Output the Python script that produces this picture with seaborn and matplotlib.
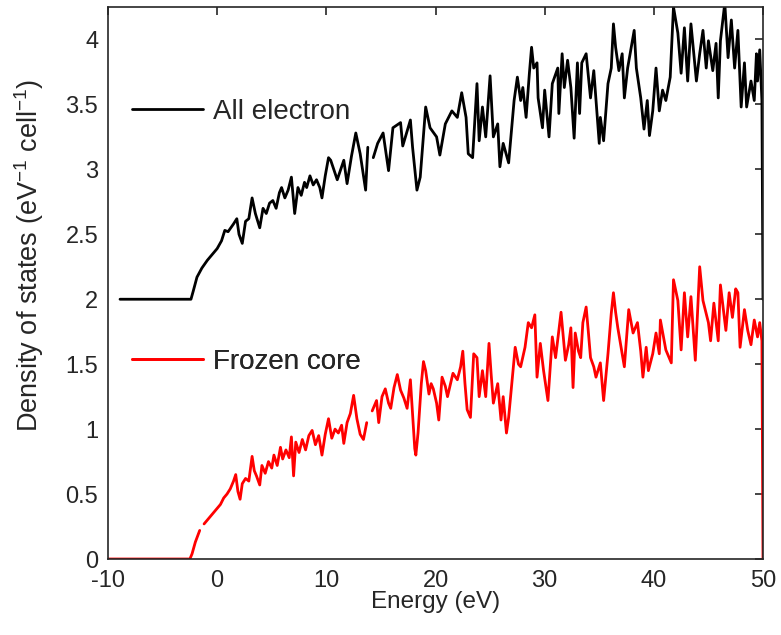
import numpy as np
import pandas as pd
import matplotlib
matplotlib.use("Agg")
import matplotlib.pyplot as plt
import seaborn as sns
from matplotlib.lines import Line2D
from matplotlib.ticker import FuncFormatter, MultipleLocator

# Frozen core DOS (eV^-1 cell^-1)
frozen_energy = [
    -10.0, -2.5, -2.3, -2.0, -1.6, -1.2, -0.8, -0.4, 0.0, 0.3, 0.6, 0.9, 1.2, 1.5,
    1.7, 1.9, 2.1, 2.3, 2.6, 2.9, 3.2, 3.4, 3.6, 3.9, 4.1, 4.4, 4.7, 5.0, 5.2, 5.5,
    5.8, 6.0, 6.3, 6.6, 6.8, 7.0, 7.2, 7.5, 7.8, 8.1, 8.4, 8.7, 9.0, 9.3, 9.6, 9.9,
    10.2, 10.5, 10.8, 11.1, 11.4, 11.6, 11.9, 12.2, 12.5, 12.8, 13.1, 13.4, 13.7,
    14.2, 14.4, 14.6, 14.8, 15.1, 15.4, 15.7, 15.9, 16.2, 16.5, 16.8, 17.1, 17.4,
    17.7, 17.9, 18.1, 18.2, 18.4, 18.7, 18.9, 19.1, 19.4, 19.6, 19.8, 20.1, 20.3,
    20.6, 20.9, 21.1, 21.4, 21.6, 22.0, 22.3, 22.5, 22.7, 22.9, 23.2, 23.5, 23.8,
    24.0, 24.3, 24.6, 24.9, 25.1, 25.3, 25.7, 26.0, 26.2, 26.5, 26.7, 27.1, 27.3,
    27.6, 27.8, 28.2, 28.5, 28.8, 29.1, 29.3, 29.6, 29.9, 30.3, 30.7, 31.0, 31.5,
    31.9, 32.2, 32.4, 32.6, 32.8, 33.1, 33.3, 33.5, 33.8, 34.0, 34.2, 34.5, 34.7,
    35.1, 35.4, 35.8, 36.1, 36.3, 36.5, 36.7, 37.0, 37.3, 37.7, 38.1, 38.5, 38.8,
    39.0, 39.3, 39.5, 39.9, 40.2, 40.5, 40.6, 40.9, 41.1, 41.4, 41.6, 41.8, 42.2,
    42.5, 42.8, 43.1, 43.4, 43.8, 44.2, 44.5, 45.0, 45.2, 45.5, 45.9, 46.1, 46.6,
    46.9, 47.2, 47.5, 47.7, 47.9, 48.3, 48.6, 48.9, 49.2, 49.5, 49.7, 49.9, 50.0,
]
frozen_dos = [
    0.0, 0.0, 0.04, 0.13, 0.22, 0.27, 0.31, 0.35, 0.39, 0.42, 0.47, 0.50, 0.54, 0.60,
    0.65, 0.52, 0.46, 0.58, 0.62, 0.60, 0.79, 0.68, 0.64, 0.57, 0.72, 0.66, 0.75, 0.70, 0.80, 0.72,
    0.86, 0.77, 0.84, 0.78, 0.94, 0.64, 0.90, 0.82, 0.92, 0.84, 0.95, 0.99, 0.88, 0.95, 0.80, 0.96,
    1.08, 0.93, 1.00, 0.97, 1.03, 0.89, 1.05, 1.12, 1.26, 1.08, 0.96, 0.92, 1.05,
    1.14, 1.18, 1.22, 1.05, 1.25, 1.31, 1.20, 1.16, 1.32, 1.42, 1.30, 1.24, 1.16,
    1.38, 1.12, 0.85, 0.80, 0.97, 1.35, 1.52, 1.45, 1.27, 1.35, 1.31, 1.20, 1.07,
    1.40, 1.33, 1.25, 1.36, 1.43, 1.38, 1.48, 1.60, 1.35, 1.15, 1.09, 1.58, 1.55,
    1.25, 1.45, 1.25, 1.66, 1.42, 1.20, 1.35, 1.07, 1.25, 0.97, 1.09, 1.45, 1.63,
    1.50, 1.48, 1.63, 1.82, 1.78, 1.88, 1.40, 1.66, 1.45, 1.22, 1.71, 1.55, 1.90,
    1.53, 1.65, 1.78, 1.32, 1.74, 1.60, 1.55, 1.82, 1.94, 1.75, 1.55, 1.48, 1.40,
    1.51, 1.22, 1.58, 1.89, 2.05, 1.90, 1.78, 1.63, 1.48, 1.92, 1.74, 1.82, 1.60,
    1.40, 1.63, 1.45, 1.58, 1.74, 1.58, 1.84, 1.70, 1.61, 1.55, 1.51, 2.15, 1.99,
    1.61, 2.05, 1.71, 2.02, 1.53, 2.25, 1.99, 1.82, 1.68, 1.97, 1.68, 2.11, 1.76,
    2.05, 1.86, 2.08, 2.05, 1.63, 1.92, 1.76, 1.65, 1.84, 1.71, 1.82, 1.68, 0.0,
]
frozen_gaps = [-1.4, 13.9]

# All electron DOS, same units
all_energy = [
    -8.9, -2.4, -2.2, -1.85, -1.4, -0.9, -0.4, 0.0, 0.4, 0.7, 1.0, 1.5, 1.8, 2.0,
    2.3, 2.6, 2.9, 3.2, 3.5, 3.9, 4.2, 4.5, 4.8, 5.1, 5.4, 5.7, 5.9, 6.2, 6.5, 6.8,
    7.1, 7.4, 7.7, 8.0, 8.2, 8.5, 8.8, 9.1, 9.4, 9.6, 9.9, 10.2, 10.4, 11.0, 11.6,
    11.9, 12.3, 12.7, 13.1, 13.6, 13.8,
    14.3, 14.7, 15.2, 15.7, 16.1, 16.8, 17.0, 17.7, 17.9, 18.3, 18.6, 19.1, 19.5,
    20.1, 20.4, 20.9, 21.5, 22.0, 22.4, 22.8, 23.0, 23.4, 23.8, 24.0, 24.3, 24.6,
    25.0, 25.3, 25.7, 25.9, 26.2, 26.7, 27.2, 27.5, 27.8, 28.0, 28.3, 28.6, 28.8,
    29.0, 29.3, 29.4, 29.8, 30.0, 30.4, 30.7, 31.2, 31.3, 31.6, 31.8, 32.1, 32.4,
    32.7, 33.0, 33.2, 33.4, 33.8, 34.2, 34.5, 35.0, 35.1, 35.4, 35.8, 36.1, 36.3,
    36.5, 36.8, 37.1, 37.3, 37.6, 38.2, 38.4, 38.8, 39.1, 39.4, 39.6, 39.9, 40.2,
    40.5, 40.8, 41.1, 41.5, 41.8, 42.2, 42.5, 42.8, 43.1, 43.4, 43.9, 44.2, 44.5,
    44.8, 45.0, 45.4, 45.7, 45.9, 46.1, 46.5, 46.8, 47.1, 47.4, 47.7, 48.0, 48.3,
    48.5, 48.9, 49.2, 49.4, 49.5, 49.7, 49.9, 50.0,
]
all_dos = [
    0.0, 0.0, 0.06, 0.17, 0.24, 0.30, 0.35, 0.39, 0.45, 0.53, 0.52, 0.58, 0.62, 0.50,
    0.43, 0.60, 0.62, 0.78, 0.66, 0.55, 0.70, 0.66, 0.74, 0.76, 0.70, 0.82, 0.86, 0.78, 0.84, 0.94,
    0.66, 0.86, 0.80, 0.90, 0.86, 0.95, 0.88, 0.92, 0.86, 0.78, 0.95, 1.09, 1.07, 0.92, 1.07,
    0.89, 1.10, 1.28, 1.12, 0.84, 1.17,
    1.09, 1.20, 1.28, 0.99, 1.32, 1.36, 1.18, 1.38, 1.17, 0.84, 0.94, 1.48, 1.32,
    1.25, 1.11, 1.35, 1.45, 1.40, 1.59, 1.40, 1.12, 1.09, 1.66, 1.22, 1.48, 1.25,
    1.72, 1.25, 1.35, 1.02, 1.20, 1.05, 1.53, 1.71, 1.53, 1.63, 1.40, 1.74, 1.94,
    1.78, 1.82, 1.55, 1.32, 1.61, 1.25, 1.66, 1.78, 1.43, 1.89, 1.63, 1.84, 1.63,
    1.24, 1.82, 1.43, 1.82, 1.89, 1.55, 1.76, 1.20, 1.40, 1.22, 1.66, 1.78, 2.12,
    1.94, 1.76, 1.89, 1.55, 1.78, 2.07, 1.78, 1.55, 1.31, 1.53, 1.26, 1.45, 1.78,
    1.45, 1.61, 1.53, 1.71, 2.25, 2.05, 1.74, 2.09, 1.68, 2.12, 1.68, 1.89, 2.07,
    1.78, 1.99, 1.76, 1.97, 1.55, 1.99, 2.28, 1.86, 2.15, 1.78, 2.07, 1.48, 1.82,
    1.48, 1.68, 1.53, 1.89, 1.68, 1.92, 1.53, 0.0,
]
all_gaps = [14.0]

# all electron curve is shifted up for display
all_offset = 2.0

sns.set_theme(style="white")
plt.rcParams['font.family'] = ['Liberation Sans', 'DejaVu Sans']
plt.rcParams['mathtext.fontset'] = 'custom'
plt.rcParams['mathtext.rm'] = 'Liberation Sans'
plt.rcParams['mathtext.default'] = 'regular'


def build_frame(energy, dos, gaps, name, offset=0.0):
    energy = np.asarray(energy)
    return pd.DataFrame({
        'energy': energy,
        'dos': np.asarray(dos) + offset,
        'curve': name,
        'segment': [f"{name}_{i}" for i in np.searchsorted(gaps, energy)],
    })


df = pd.concat([
    build_frame(frozen_energy, frozen_dos, frozen_gaps, 'Frozen core'),
    build_frame(all_energy, all_dos, all_gaps, 'All electron', all_offset),
], ignore_index=True)

colors = {'All electron': 'black', 'Frozen core': 'red'}
dark = '#262626'

fig = plt.figure(figsize=(7.81, 6.35), dpi=100)
ax = fig.add_axes([108 / 781, 76 / 635, 655 / 781, 552 / 635])

sns.lineplot(data=df, x='energy', y='dos', hue='curve', units='segment',
             estimator=None, sort=False, palette=colors, linewidth=2.0,
             legend=False, ax=ax)

ax.set_xlim(-10, 50)
ax.set_ylim(0, 4.25)
ax.xaxis.set_major_locator(MultipleLocator(10))
ax.yaxis.set_major_locator(MultipleLocator(0.5))
ax.yaxis.set_major_formatter(FuncFormatter(lambda v, p: f"{v:g}"))
ax.xaxis.set_major_formatter(FuncFormatter(lambda v, p: f"{v:g}"))

for side in ax.spines.values():
    side.set_visible(True)
    side.set_color(dark)
    side.set_linewidth(1.2)
ax.tick_params(direction='in', length=5.5, width=1.2, top=True, right=True,
               labelsize=17, color=dark, labelcolor=dark)
ax.tick_params(axis='x', pad=8)
ax.tick_params(axis='y', pad=7)

ax.set_xlabel('Energy (eV)', fontsize=17.5, color=dark)
ax.set_ylabel('Density of states (eV$^{-1}$ cell$^{-1}$)', fontsize=19.5,
              color=dark)
ax.xaxis.set_label_coords(0.5, -0.058)
ax.yaxis.set_label_coords(-0.095, 0.55)

# two separate legend entries placed next to their curves
for name, ypos in [('All electron', 0.81), ('Frozen core', 0.357)]:
    handle = Line2D([], [], color=colors[name], linewidth=2.0)
    leg = ax.legend([handle], [name], loc='center left',
                    bbox_to_anchor=(24 / 655, ypos), frameon=False,
                    fontsize=20, handlelength=2.55, handletextpad=0.35,
                    borderpad=0, borderaxespad=0)
    ax.add_artist(leg)

fig.savefig('out.png', dpi=100)
